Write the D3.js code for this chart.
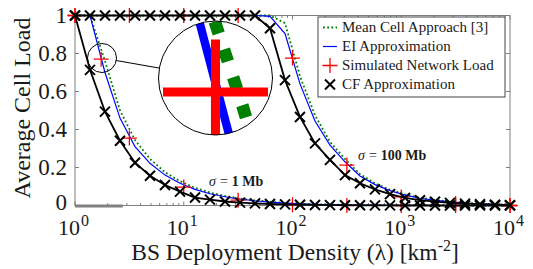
<!DOCTYPE html>
<html>
<head>
<meta charset="utf-8">
<script src="https://cdn.jsdelivr.net/npm/d3@7"></script>
<style>
  body { margin: 0; background: #fff; }
</style>
</head>
<body>
<div id="maViz"></div>
<script>
// Données lues sur la figure
// densités des points calculés (30 points, échelle log de 1 à 10^4)
const density = [1, 1.374, 1.887, 2.593, 3.562, 4.894, 6.723, 9.237, 12.69, 17.43,
                 23.95, 32.90, 45.20, 62.10, 85.32, 117.2, 161.0, 221.2, 303.9, 417.5,
                 573.6, 788.0, 1083, 1487, 2043, 2807, 3857, 5298, 7279, 10000];

// sigma = 1 Mb
const meanCell1 = [1, 1, 0.76, 0.50, 0.345, 0.245, 0.175, 0.128, 0.093, 0.068,
                   0.05, 0.037, 0.027, 0.02, 0.014, 0.01, 0.007, 0.005, 0.0035, 0.0025,
                   0.002, 0.0015, 0.001, 0.001, 0.0005, 0.0005, 0, 0, 0, 0];
const ei1 = [1, 1, 0.70, 0.46, 0.31, 0.222, 0.16, 0.117, 0.085, 0.062,
             0.046, 0.034, 0.025, 0.018, 0.013, 0.009, 0.006, 0.004, 0.003, 0.002,
             0.0015, 0.001, 0.001, 0.0005, 0.0005, 0, 0, 0, 0, 0];
const cf1 = [1, 0.714, 0.494, 0.341, 0.225, 0.157, 0.108, 0.073, 0.042, 0.031,
             0.021, 0.015, 0.011, 0.008, 0.006, 0.004, 0.003, 0.002, 0.0015, 0.001,
             0.0005, 0.0005, 0, 0, 0, 0, 0, 0, 0, 0];

// sigma = 100 Mb
const meanCell100 = [1, 1, 1, 1, 1, 1, 1, 1, 1, 1,
                     1, 1, 1, 1, 0.96, 0.68, 0.475, 0.335, 0.245, 0.165,
                     0.117, 0.083, 0.059, 0.041, 0.029, 0.02, 0.014, 0.01, 0.007, 0.005];
const ei100 = [1, 1, 1, 1, 1, 1, 1, 1, 1, 1,
               1, 1, 1, 0.995, 0.905, 0.64, 0.445, 0.318, 0.23, 0.155,
               0.11, 0.078, 0.055, 0.038, 0.027, 0.019, 0.013, 0.009, 0.006, 0.004];
const cf100 = [1, 1, 1, 1, 1, 1, 1, 1, 1, 1,
               1, 1, 1, 0.933, 0.66, 0.466, 0.327, 0.24, 0.16, 0.117,
               0.085, 0.06, 0.04, 0.028, 0.02, 0.014, 0.01, 0.007, 0.004, 0.002];

// charge simulée
const simDensity1 = [1, 1.74, 3.162, 10, 31.62, 100, 316.2, 1000, 3162, 10000];
const sim1 = [1, 0.77, 0.355, 0.097, 0.028, 0.004, 0, 0, 0, 0];
const simDensity100 = [1, 3.162, 10, 31.62, 100, 316.2, 1000, 3162, 10000];
const sim100 = [1, 1, 1, 1, 0.776, 0.213, 0.045, 0.01, 0];

const yTicks = [0, 0.2, 0.4, 0.6, 0.8, 1];
const xTicks = [1, 10, 100, 1000, 10000];
const xExpo = ['0', '1', '2', '3', '4'];
const legendLabels = ["Mean Cell Approach [3]", "EI Approximation", "Simulated Network Load", "CF Approximation"];

// Dimensions et marges
const W = 533, H = 269;
const margin = {top: 15.5, right: 23, bottom: 63.5, left: 75};
const width = W - margin.left - margin.right;
const height = H - margin.top - margin.bottom;
const gris = '#808080';
const vert = '#008000', bleu = '#0000ff', rouge = '#ff0000';
const police = '"Liberation Serif", "Times New Roman", "DejaVu Serif", serif';

const svg = d3.select("#maViz").append("svg")
    .attr("width", W).attr("height", H)
    .attr('font-family', police)
    .style('font-family', police);

const x = d3.scaleLog().domain([1, 1e4]).range([margin.left, margin.left + width]);
const y = d3.scaleLinear().domain([0, 1]).range([margin.top + height, margin.top]);

// cadre + graduations (MATLAB : ticks vers l'intérieur)
const minor = [];
for (let e = 0; e < 4; e++) for (let m = 2; m < 10; m++) minor.push(m * Math.pow(10, e));

const axes = svg.append('g').attr('stroke', gris).attr('fill', 'none');
axes.append('rect')
    .attr('x', x(1)).attr('y', y(1))
    .attr('width', x(1e4) - x(1)).attr('height', y(0) - y(1));
// petite barre grise en bas à gauche
axes.append('line')
    .attr('x1', x(1)).attr('x2', x(2.75))
    .attr('y1', y(0) + 0.5).attr('y2', y(0) + 0.5)
    .attr('stroke-width', 3);

yTicks.forEach(t => {
  axes.append('line').attr('x1', x(1)).attr('x2', x(1) + 4).attr('y1', y(t)).attr('y2', y(t));
  axes.append('line').attr('x1', x(1e4)).attr('x2', x(1e4) - 4).attr('y1', y(t)).attr('y2', y(t));
});
xTicks.forEach(t => {
  axes.append('line').attr('x1', x(t)).attr('x2', x(t)).attr('y1', y(0)).attr('y2', y(0) - 4);
  axes.append('line').attr('x1', x(t)).attr('x2', x(t)).attr('y1', y(1)).attr('y2', y(1) + 4);
});
minor.forEach(t => {
  axes.append('line').attr('x1', x(t)).attr('x2', x(t)).attr('y1', y(0)).attr('y2', y(0) - 2.5);
  axes.append('line').attr('x1', x(t)).attr('x2', x(t)).attr('y1', y(1)).attr('y2', y(1) + 2.5);
});

const txt = svg.append('g').attr('fill', '#1a1a1a');

// labels des ticks (le "0" est remonté un peu, comme sur l'original)
txt.append('g').selectAll('text')
  .data(yTicks).join('text')
    .attr('x', x(1) - 8).attr('y', d => y(d) - (d === 0 ? 3.5 : 0))
    .attr('dy', '0.34em').attr('text-anchor', 'end')
    .style('font-size', '23px')
    .text(d => d);

// 10 puis exposant, en deux textes séparés
txt.append('g').selectAll('text')
  .data(xTicks).join('text')
    .attr('x', d => x(d) + 5).attr('y', y(0) + 29)
    .attr('text-anchor', 'end')
    .style('font-size', '22px')
    .text('10');
txt.append('g').selectAll('text')
  .data(xTicks).join('text')
    .attr('x', d => x(d) + 6).attr('y', y(0) + 20)
    .style('font-size', '16px')
    .text((d, i) => xExpo[i]);

// titres des axes
txt.append('text')
    .attr('x', 295).attr('y', 259.5)
    .attr('text-anchor', 'middle')
    .style('font-size', '23.5px')
    .call(t => {
      t.append('tspan').text('BS Deployment Density (λ) [km');
      t.append('tspan').attr('dy', -9).style('font-size', '16px').text('-2');
      t.append('tspan').attr('dy', 9).text(']');
    });
txt.append('text')
    .attr('transform', 'translate(30,108) rotate(-90)')
    .attr('text-anchor', 'middle')
    .style('font-size', '24px')
    .text('Average Cell Load');

// tracé des courbes
const ligne = d3.line().x(d => x(d[0])).y(d => y(d[1]));
const croix = 'M-5,-5L5,5M-5,5L5,-5';
const plus = 'M-7.5,0H7.5M0,-7.5V7.5';

function drawSeries(g) {
  [[meanCell1, ei1, cf1], [meanCell100, ei100, cf100]].forEach(([mc, ei, cf]) => {
    g.append('path')
        .datum(density.map((d, i) => [d, mc[i]]))
        .attr('d', ligne).attr('fill', 'none')
        .attr('stroke', vert).attr('stroke-width', 1.8)
        .attr('stroke-dasharray', '1.8,2.4');
    g.append('path')
        .datum(density.map((d, i) => [d, ei[i]]))
        .attr('d', ligne).attr('fill', 'none')
        .attr('stroke', bleu).attr('stroke-width', 1.2);
  });
  [[simDensity1, sim1], [simDensity100, sim100]].forEach(([sd, sv]) => {
    g.append('g').selectAll('path')
      .data(sd.map((d, i) => [d, sv[i]])).join('path')
        .attr('d', plus)
        .attr('transform', d => `translate(${x(d[0])},${y(d[1])})`)
        .attr('stroke', rouge).attr('stroke-width', 1.3);
  });
  [cf1, cf100].forEach(cf => {
    const pts = density.map((d, i) => [d, cf[i]]);
    g.append('path').datum(pts)
        .attr('d', ligne).attr('fill', 'none')
        .attr('stroke', '#000').attr('stroke-width', 1.8);
    g.append('g').selectAll('path')
      .data(pts).join('path')
        .attr('d', croix)
        .attr('transform', d => `translate(${x(d[0])},${y(d[1])})`)
        .attr('stroke', '#000').attr('stroke-width', 2);
  });
}
drawSeries(svg.append('g'));

// annotations sigma
function sigmaLabel(px, py, val) {
  const t = txt.append('text').attr('x', px).attr('y', py).style('font-size', '14px');
  t.append('tspan').style('font-style', 'italic').text('σ');
  t.append('tspan').attr('dx', 4).text('=');
  t.append('tspan').attr('dx', 4).style('font-weight', 'bold').text(val + ' Mb');
}
sigmaLabel(209, 186, '1');
sigmaLabel(358, 160, '100');

// loupe
const M = 7;
const bigC = {x: 215.5, y: 78, r: 57};
const smallC = {x: 102, y: 58, r: 14.5};
const fx = x(simDensity1[1]), fy = y(sim1[1]) - 2;

svg.append('defs').append('clipPath').attr('id', 'loupe')
  .append('circle').attr('cx', bigC.x).attr('cy', bigC.y).attr('r', bigC.r);
const zoomG = svg.append('g').attr('clip-path', 'url(#loupe)');
zoomG.append('circle').attr('cx', bigC.x).attr('cy', bigC.y).attr('r', bigC.r).attr('fill', '#fff');
drawSeries(zoomG.append('g')
  .attr('transform', `translate(${bigC.x},${bigC.y}) scale(${M}) translate(${-fx},${-fy})`));

const ang = Math.atan2(bigC.y - smallC.y, bigC.x - smallC.x);
svg.append('circle').attr('cx', bigC.x).attr('cy', bigC.y).attr('r', bigC.r)
    .attr('fill', 'none').attr('stroke', '#000').attr('stroke-width', 1);
svg.append('circle').attr('cx', smallC.x).attr('cy', smallC.y).attr('r', smallC.r)
    .attr('fill', 'none').attr('stroke', '#000').attr('stroke-width', 1);
svg.append('line')
    .attr('x1', smallC.x + smallC.r * Math.cos(ang)).attr('y1', smallC.y + smallC.r * Math.sin(ang))
    .attr('x2', bigC.x - bigC.r * Math.cos(ang)).attr('y2', bigC.y - bigC.r * Math.sin(ang))
    .attr('stroke', '#000').attr('stroke-width', 1);

// légende
const leg = svg.append('g').attr('transform', 'translate(318,17)');
leg.append('rect').attr('width', 187).attr('height', 80)
    .attr('fill', '#fff').attr('stroke', '#444');
const rowY = d3.scalePoint().domain(legendLabels).range([10.5, 67.5]);
leg.selectAll('text').data(legendLabels).join('text')
    .attr('x', 24).attr('y', d => rowY(d)).attr('dy', '0.33em')
    .attr('fill', '#1a1a1a')
    .style('font-size', '15px')
    .text(d => d);
leg.append('line').attr('x1', 5).attr('x2', 19).attr('y1', rowY(legendLabels[0])).attr('y2', rowY(legendLabels[0]))
    .attr('stroke', vert).attr('stroke-width', 1.8).attr('stroke-dasharray', '1.8,2.4');
leg.append('line').attr('x1', 5).attr('x2', 19).attr('y1', rowY(legendLabels[1])).attr('y2', rowY(legendLabels[1]))
    .attr('stroke', bleu).attr('stroke-width', 1.2);
leg.append('path').attr('d', plus).attr('transform', `translate(12,${rowY(legendLabels[2])})`)
    .attr('stroke', rouge).attr('stroke-width', 1.3);
leg.append('path').attr('d', croix).attr('transform', `translate(12,${rowY(legendLabels[3])})`)
    .attr('stroke', '#000').attr('stroke-width', 2);
</script>
</body>
</html>
